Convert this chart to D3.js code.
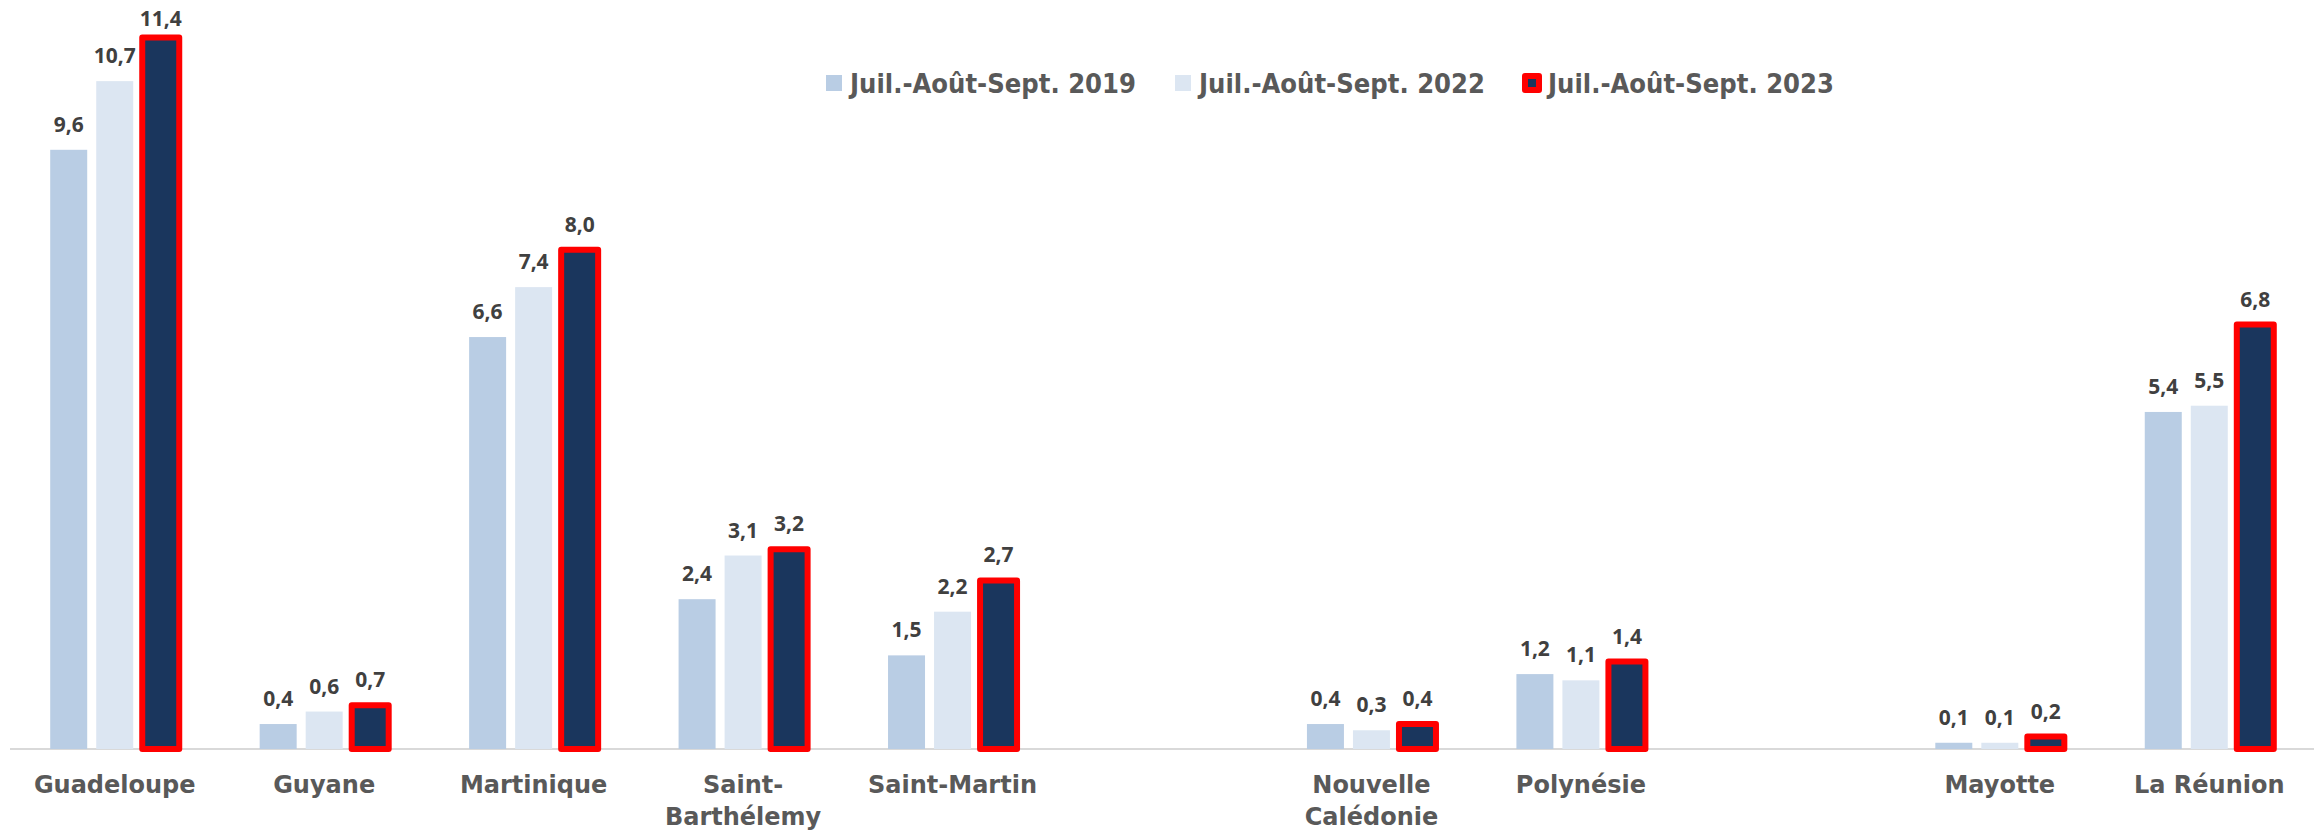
<!DOCTYPE html>
<html>
<head>
<meta charset="utf-8">
<script src="https://cdn.jsdelivr.net/npm/d3@7"></script>
<style>
  html, body { margin: 0; padding: 0; background: #ffffff; }
  svg { display: block; }
</style>
</head>
<body>
<svg id="chart" width="2318" height="830"></svg>
<script>
// ---- data ----
const categories = ["Guadeloupe", "Guyane", "Martinique", "Saint-Barthélemy", "Saint-Martin", "",
                    "Nouvelle Calédonie", "Polynésie", "", "Mayotte", "La Réunion"];
const seriesNames = ["Juil.-Août-Sept. 2019", "Juil.-Août-Sept. 2022", "Juil.-Août-Sept. 2023"];
const values2019 = [9.6, 0.4, 6.6, 2.4, 1.5, null, 0.4, 1.2, null, 0.1, 5.4];
const values2022 = [10.7, 0.6, 7.4, 3.1, 2.2, null, 0.3, 1.1, null, 0.1, 5.5];
const values2023 = [11.4, 0.7, 8.0, 3.2, 2.7, null, 0.4, 1.4, null, 0.2, 6.8];
const yDomain = [0, 12];

// ---- styles ----
const fills = ["#b9cde4", "#dce6f2", "#1a365d"];
const strokes = [null, null, "#ff0000"];
const plot = { left: 10, right: 2314, top: 0, bottom: 749 };

const svg = d3.select("#chart");
const allSeries = [values2019, values2022, values2023];

const x0 = d3.scaleBand()
  .domain(d3.range(categories.length))
  .range([plot.left, plot.right])
  .paddingInner(0.384)
  .paddingOuter(0.192);

const x1 = d3.scaleBand()
  .domain(d3.range(seriesNames.length))
  .range([0, x0.bandwidth()])
  .paddingInner(0.196)
  .paddingOuter(0);

const y = d3.scaleLinear().domain(yDomain).range([plot.bottom, plot.top]);

// axis line (category axis)
const xAxis = d3.axisBottom(x0).tickSize(0).tickFormat("");
const axisG = svg.append("g").attr("transform", `translate(0,${plot.bottom})`).call(xAxis);
axisG.select(".domain").attr("stroke", "#d9d9d9").attr("stroke-width", 2)
  .attr("d", `M${plot.left},0H${plot.right}`);

// bars
const rows = [];
categories.forEach((c, i) => {
  allSeries.forEach((vals, s) => {
    if (vals[i] != null) rows.push({ i, s, v: vals[i] });
  });
});

svg.append("g").selectAll("rect")
  .data(rows)
  .join("rect")
  .attr("x", d => x0(d.i) + x1(d.s))
  .attr("width", x1.bandwidth())
  .attr("y", d => y(d.v))
  .attr("height", d => y(0) - y(d.v))
  .attr("fill", d => fills[d.s])
  .attr("stroke", d => strokes[d.s] || "none")
  .attr("stroke-width", d => strokes[d.s] ? 6 : 0)
  .attr("stroke-linejoin", "round");

// value labels
const fmt = v => d3.format(".1f")(v).replace(".", ",");
svg.append("g").selectAll("text")
  .data(rows)
  .join("text")
  .attr("x", d => x0(d.i) + x1(d.s) + x1.bandwidth() / 2)
  .attr("y", d => Math.max(y(d.v) - 18, 26))
  .attr("text-anchor", "middle")
  .attr("font-family", "'Noto Sans', 'Liberation Sans', sans-serif")
  .attr("font-weight", "bold")
  .attr("font-size", 21)
  .attr("fill", "#404040")
  .text(d => fmt(d.v));

// category labels (wrapped)
const catG = svg.append("g");
const maxW = x0.step() - 10;
categories.forEach((c, i) => {
  if (!c) return;
  const cx = x0(i) + x0.bandwidth() / 2;
  const t = catG.append("text")
    .attr("x", cx)
    .attr("y", plot.bottom + 44)
    .attr("text-anchor", "middle")
    .attr("font-family", "'DejaVu Sans', sans-serif")
    .attr("font-weight", "bold")
    .attr("font-size", 24)
    .attr("fill", "#595959");
  const ts = t.append("tspan").attr("x", cx).text(c);
  if (ts.node().getComputedTextLength() > maxW) {
    let parts;
    if (c.indexOf(" ") > 0) {
      const k = c.indexOf(" ");
      parts = [c.slice(0, k), c.slice(k + 1)];
    } else {
      const k = c.indexOf("-");
      parts = [c.slice(0, k + 1), c.slice(k + 1)];
    }
    ts.text(parts[0]);
    t.append("tspan").attr("x", cx).attr("dy", 32).text(parts[1]);
  }
});

// legend
const legX = 826, legStep = 349, legY = 83;
const leg = svg.append("g");
seriesNames.forEach((name, s) => {
  const g = leg.append("g").attr("transform", `translate(${legX + s * legStep},${legY})`);
  if (strokes[s]) {
    g.append("rect").attr("x", 1).attr("y", -7).attr("width", 14).attr("height", 14)
      .attr("fill", fills[s]).attr("stroke", strokes[s]).attr("stroke-width", 6)
      .attr("stroke-linejoin", "round");
  } else {
    g.append("rect").attr("x", 0).attr("y", -8).attr("width", 16).attr("height", 16)
      .attr("fill", fills[s]);
  }
  g.append("text")
    .attr("x", 24)
    .attr("y", 10)
    .attr("font-family", "'DejaVu Sans', sans-serif")
    .attr("font-weight", "bold")
    .attr("font-size", 27)
    .attr("fill", "#595959")
    .attr("textLength", 286)
    .attr("lengthAdjust", "spacingAndGlyphs")
    .text(name);
});
</script>
</body>
</html>
